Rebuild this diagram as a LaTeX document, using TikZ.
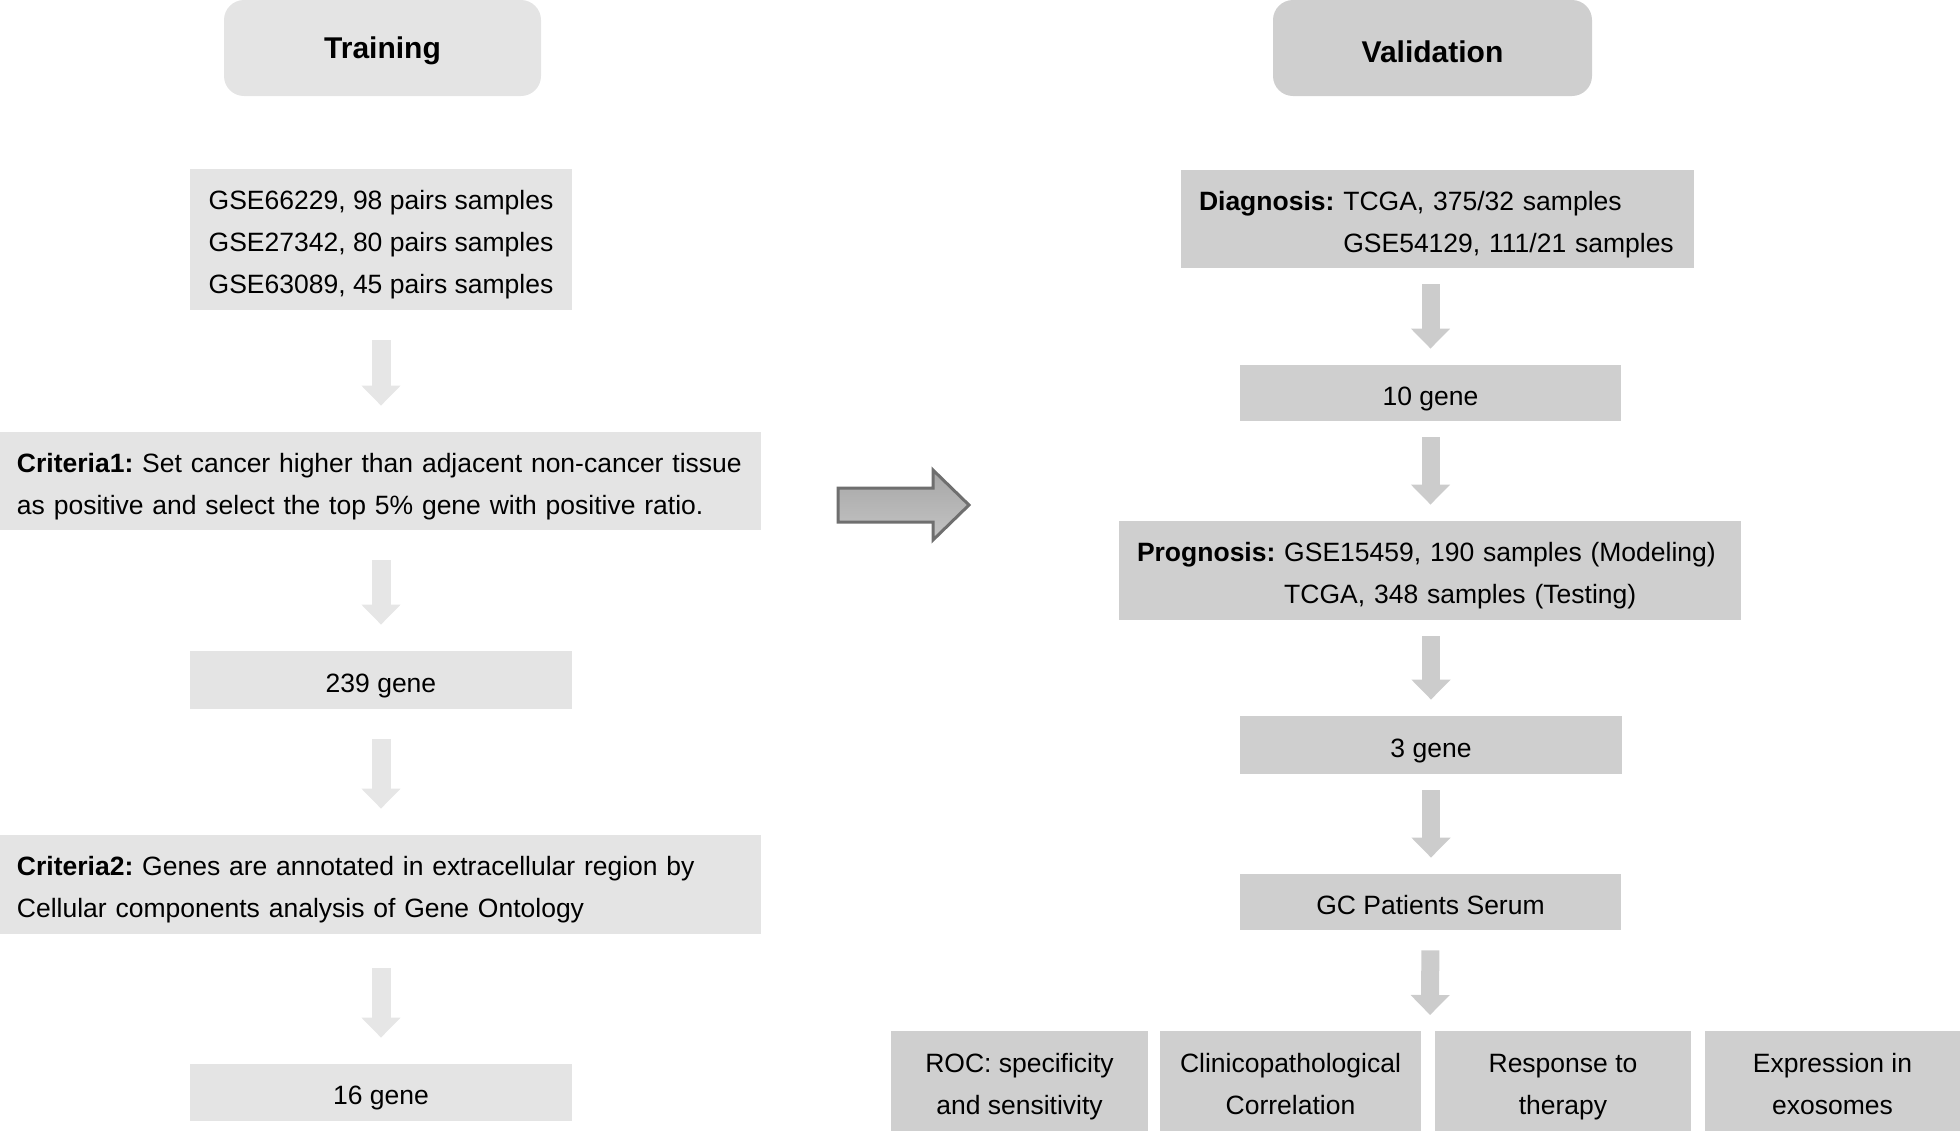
\documentclass[tikz,border=0pt]{standalone}
\usepackage{fontspec}
\setmainfont{Liberation Sans}
\usetikzlibrary{arrows.meta,calc}
\definecolor{lfill}{HTML}{E4E4E4}
\definecolor{rfill}{HTML}{CFCFCF}
\definecolor{larrc}{HTML}{E6E6E6}
\definecolor{rarrc}{HTML}{CCCCCC}
\definecolor{bigedge}{HTML}{6F6F6F}
\definecolor{bigtop}{HTML}{A6A6A6}
\definecolor{bigbot}{HTML}{C4C4C4}
\newcommand\vst{\rule[-3pt]{0pt}{18pt}}
\begin{document}
\begin{tikzpicture}[x=0.5pt,y=-0.5pt,
  txt/.style={font=\fontsize{13.25pt}{21pt}\selectfont\frenchspacing, text=black},
  titlebox/.style={rounded corners=10pt, minimum width=158.5pt, minimum height=48pt, inner sep=0pt, font=\fontsize{15pt}{18pt}\selectfont\bfseries},
  lbox/.style={txt, fill=lfill, inner ysep=0pt, inner xsep=8.5pt, align=left},
  rbox/.style={txt, fill=rfill, inner ysep=0pt, inner xsep=9pt, align=left},
  lcbox/.style={txt, fill=lfill, inner sep=0pt, align=center},
  cbox/.style={txt, fill=rfill, inner sep=0pt, align=center},
  larrow/.style={color=larrc, line width=9.5pt, -{Triangle[width=19pt,length=10pt]}, shorten <=15pt, shorten >=13pt},
  rarrow/.style={color=rarrc, line width=9pt, -{Triangle[width=19pt,length=10pt]}, shorten <=8pt, shorten >=8pt}
]
\useasboundingbox (0,0) rectangle (1960,1132);

% titles
\node[titlebox, fill=lfill, text height=12pt, text depth=1.5pt] (train) at (382.5,48) {Training};
\node[titlebox, fill=rfill, minimum width=159.5pt, text height=15pt, text depth=0.8pt] (valid) at (1432.5,48) {Validation};

% left column
\node[lcbox, minimum width=191pt, minimum height=70.5pt, align=left] (gse) at (381,239.5)
  {\vst GSE66229, 98 pairs samples\\GSE27342, 80 pairs samples\\GSE63089, 45 pairs samples\vst};
\node[lbox, text width=363.5pt, minimum height=49pt] (crit1) at (380.5,481)
  {\mbox{\vst\textbf{Criteria1:} Set cancer higher than adjacent non-cancer tissue}\\\mbox{as positive and select the top 5\% gene with positive ratio.\vst}};
\node[lcbox, minimum width=191pt, minimum height=29pt] (g239) at (381,680) {\vst 239 gene};
\node[lbox, text width=363.5pt, minimum height=49.5pt] (crit2) at (380.5,884.5)
  {\mbox{\vst\textbf{Criteria2:} Genes are annotated in extracellular region by}\\\mbox{Cellular components analysis of Gene Ontology\vst}};
\node[lcbox, minimum width=191pt, minimum height=28.5pt] (g16) at (381,1092.5) {\vst 16 gene};

\draw[larrow] (gse) -- (gse |- crit1.north);
\draw[larrow] (crit1.south -| g239) -- (g239);
\draw[larrow] (g239) -- (g239 |- crit2.north);
\draw[larrow, shorten <=17pt] (crit2.south -| g16) -- (g16);

% right column
\node[rbox, text width=238.5pt, minimum height=49pt] (diag) at (1437.5,219)
  {\mbox{\vst\textbf{Diagnosis:} TCGA, 375/32 samples}\\\mbox{\hphantom{\textbf{Diagnosis:} }GSE54129, 111/21 samples\vst}};
\node[cbox, minimum width=190.5pt, minimum height=28pt] (g10) at (1430.5,393) {\vst 10 gene};
\node[rbox, text width=293pt, minimum height=49.5pt] (prog) at (1430,570.5)
  {\mbox{\vst\textbf{Prognosis:} GSE15459, 190 samples (Modeling)}\\\mbox{\hphantom{\textbf{Prognosis:} }TCGA, 348 samples (Testing)\vst}};
\node[cbox, minimum width=191pt, minimum height=29pt] (g3) at (1431,745) {\vst 3 gene};
\node[cbox, minimum width=190.5pt, minimum height=28pt] (gc) at (1430.5,902) {\vst GC Patients Serum};

\node[cbox, minimum width=128.5pt, minimum height=50pt] (b1) at (1019.5,1081) {\vst ROC: specificity\\and sensitivity\vst};
\node[cbox, minimum width=130.5pt, minimum height=50pt] (b2) at (1290.5,1081) {\vst Clinicopathological\\Correlation\vst};
\node[cbox, minimum width=128pt, minimum height=50pt] (b3) at (1563,1081) {\vst Response to\\therapy\vst};
\node[cbox, minimum width=127.5pt, minimum height=50pt] (b4) at (1832.5,1081) {\vst Expression in\\exosomes\vst};
\coordinate (split) at (1430,1031);

\draw[rarrow] (g10 |- diag.south) -- (g10);
\draw[rarrow] (g10) -- (g10 |- prog.north);
\draw[rarrow] (g3 |- prog.south) -- (g3);
\draw[rarrow] (g3) -- (g3 |- gc.north);
\draw[rarrow, shorten <=10pt] (gc) -- (split);

% big arrow between columns
\coordinate (ba) at (838,505);
\coordinate (bb) at (969,505);
\draw[draw=bigedge, line width=1.5pt, top color=bigtop, bottom color=bigbot, line join=miter]
  ($(ba)+(0,-17)$) -- ($(ba)+(95,-17)$) -- ($(ba)+(95,-35)$) -- (bb)
  -- ($(ba)+(95,35)$) -- ($(ba)+(95,17)$) -- ($(ba)+(0,17)$) -- cycle;
\end{tikzpicture}
\end{document}
